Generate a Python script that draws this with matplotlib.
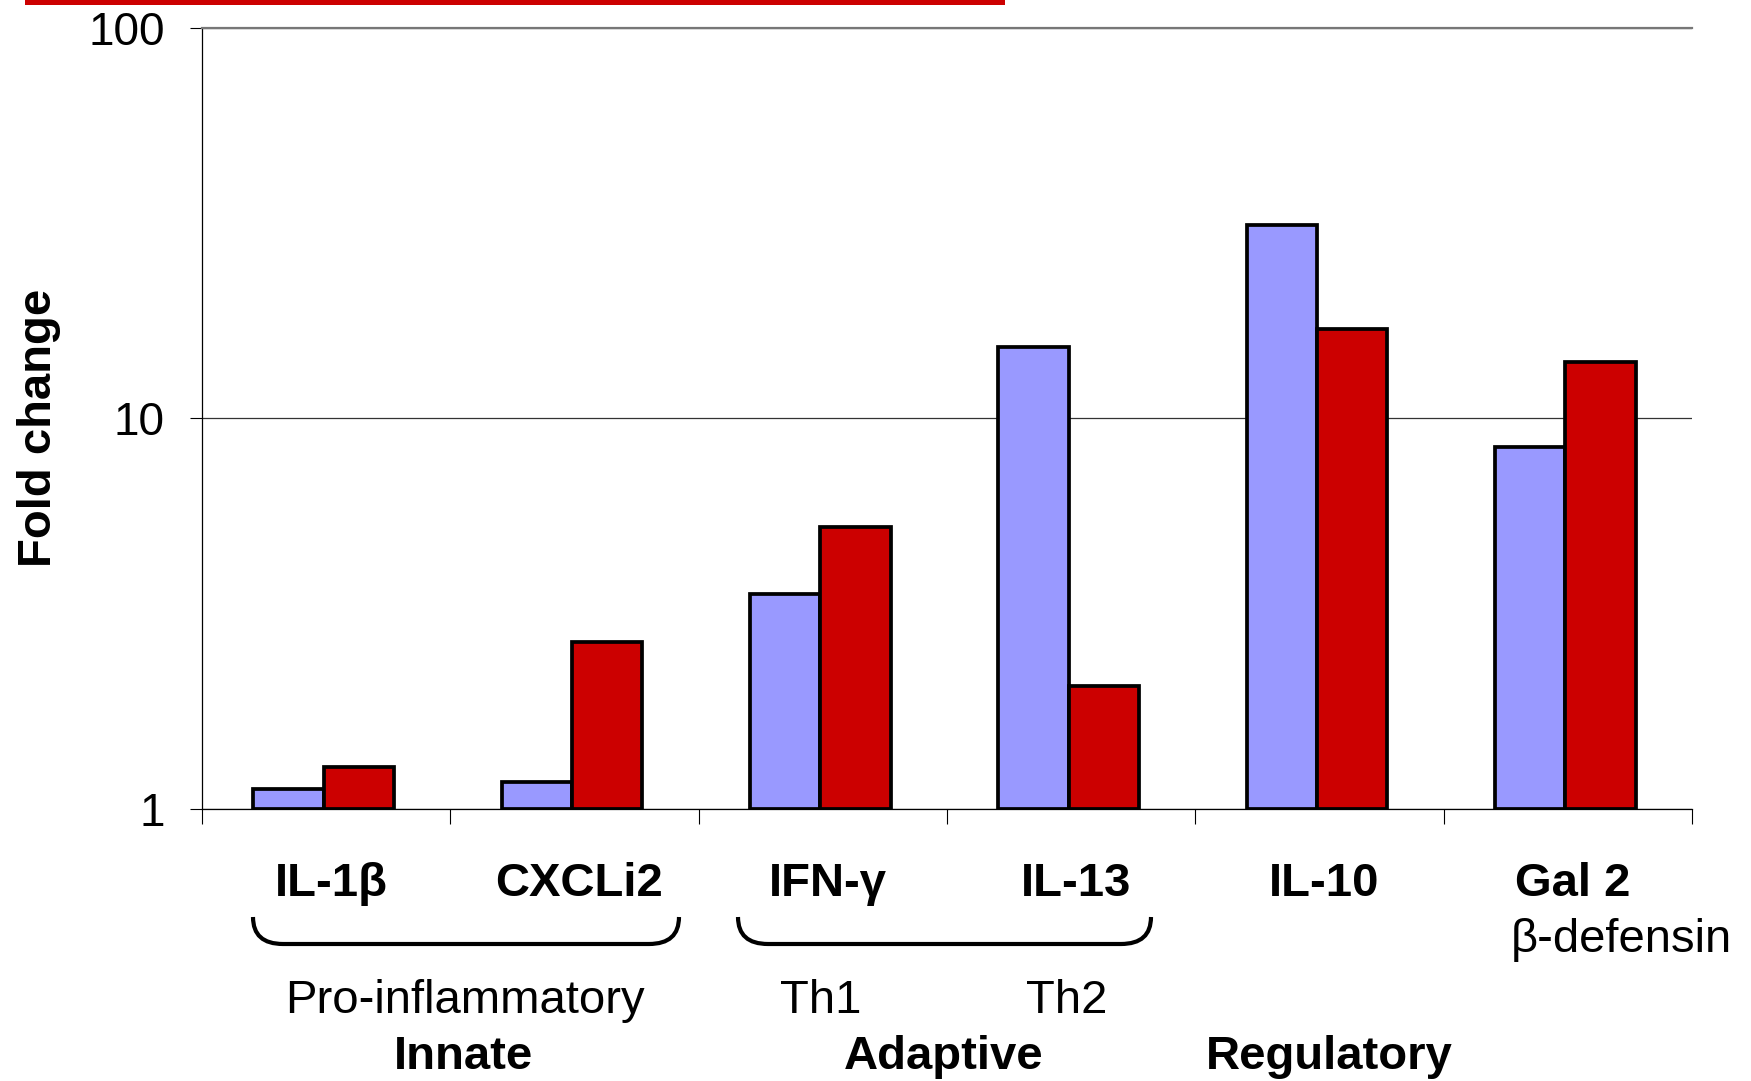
import matplotlib.pyplot as plt
import matplotlib.transforms as mtransforms
from matplotlib.path import Path
from matplotlib.patches import PathPatch, Rectangle
from matplotlib.ticker import NullLocator
import numpy as np

plt.rcParams['font.family'] = ['Liberation Sans', 'DejaVu Sans']

# data (fold change, log axis)
genes = ['IL-1β', 'CXCLi2', 'IFN-γ', 'IL-13', 'IL-10', 'Gal 2']
blue_vals = [1.12, 1.17, 3.54, 15.2, 31.2, 8.45]
red_vals = [1.28, 2.67, 5.26, 2.06, 16.9, 13.9]
ytick_vals = [1, 10, 100]
ytick_labels = ['1', '10', '100']

W, H = 1751, 1081
fig = plt.figure(figsize=(W / 100, H / 100), dpi=100)
ax = fig.add_axes([202 / W, 1 - 808.5 / H, (1692 - 202) / W, (808.5 - 28) / H])

x = np.arange(len(genes)) - 0.01
bw = 0.283
ax.bar(x - bw / 2, np.array(blue_vals) - 1, bw, bottom=1, color='#9999FF',
       edgecolor='black', linewidth=2.7, zorder=3)
ax.bar(x + bw / 2, np.array(red_vals) - 1, bw, bottom=1, color='#CC0000',
       edgecolor='black', linewidth=2.7, zorder=3)

ax.set_yscale('log')
ax.set_ylim(1, 100)
ax.set_xlim(-0.5, len(genes) - 0.5)
ax.set_yticks(ytick_vals, ytick_labels)
ax.yaxis.set_minor_locator(NullLocator())
ax.set_xticks(np.arange(-0.5, len(genes), 1), [''] * (len(genes) + 1))
ax.tick_params(axis='y', length=9, width=0.8, pad=18, labelsize=33)
ax.tick_params(axis='x', length=11, width=0.8)
ax.yaxis.grid(True, color='#333333', linewidth=0.9, zorder=0)
ax.spines['right'].set_visible(False)
ax.spines['top'].set_color('#777777')
ax.spines['top'].set_linewidth(1.6)
ax.spines['left'].set_linewidth(0.9)
ax.spines['bottom'].set_linewidth(0.9)

fig.text(39 / W, 0.604, 'Fold change', rotation=90, fontsize=34,
         fontweight='bold', ha='center', va='center')

# labels under the axis: x in data units, y in figure fraction
tr = mtransforms.blended_transform_factory(ax.transData, fig.transFigure)
for i, g in enumerate(genes):
    ax.text(i + 0.02, 0.182, g, transform=tr, fontsize=34, fontweight='bold',
            ha='center', va='center')
ax.text(4.77, 0.130, 'β-defensin', transform=tr, fontsize=34, ha='left', va='center')
ax.text(0.557, 0.074, 'Pro-inflammatory', transform=tr, fontsize=34, ha='center', va='center')
ax.text(1.99, 0.074, 'Th1', transform=tr, fontsize=34, ha='center', va='center')
ax.text(2.98, 0.074, 'Th2', transform=tr, fontsize=34, ha='center', va='center')
ax.text(0.552, 0.022, 'Innate', transform=tr, fontsize=34, fontweight='bold', ha='center', va='center')
ax.text(2.487, 0.022, 'Adaptive', transform=tr, fontsize=34, fontweight='bold', ha='center', va='center')
ax.text(4.04, 0.022, 'Regulatory', transform=tr, fontsize=34, fontweight='bold', ha='center', va='center')


# rounded brackets below the gene names (pixel coords from top-left)
def bracket(x0, x1, ytop, ybot, r):
    pts = [(x0, ytop), (x0, ybot), (x0 + r, ybot), (x1 - r, ybot),
           (x1, ybot), (x1, ytop)]
    codes = [Path.MOVETO, Path.CURVE3, Path.CURVE3, Path.LINETO,
             Path.CURVE3, Path.CURVE3]
    pts = [(px / W, 1 - py / H) for px, py in pts]
    fig.add_artist(PathPatch(Path(pts, codes), transform=fig.transFigure,
                             facecolor='none', edgecolor='black', linewidth=3))


bracket(253, 679, 917, 944, 30)
bracket(738, 1151, 917, 944, 30)

# red rule across the top
fig.add_artist(Rectangle((25 / W, 1 - 4.5 / H), (1005 - 25) / W, 4.5 / H,
                         transform=fig.transFigure, color='#CC0000', lw=0))

fig.savefig('out.png', dpi=100)
